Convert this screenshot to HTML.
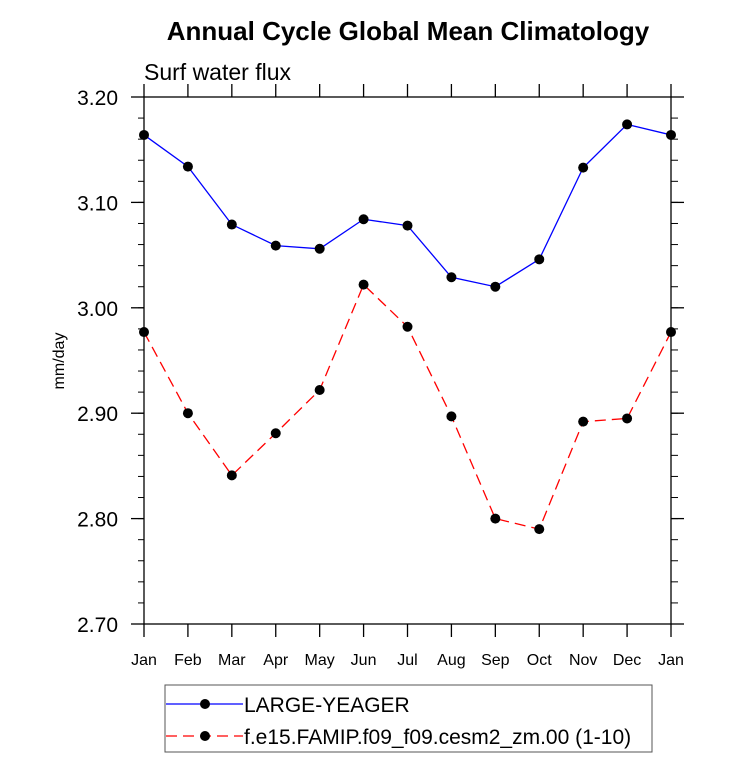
<!DOCTYPE html>
<html><head><meta charset="utf-8"><style>body{margin:0;background:#fff}svg{display:block}text{font-family:"Liberation Sans",sans-serif}</style></head>
<body>
<svg id="c" width="733" height="761">
<text x="408" y="40" text-anchor="middle" font-size="26" font-weight="bold">Annual Cycle Global Mean Climatology</text>
<text x="144" y="80" font-size="23">Surf water flux</text>
<text transform="translate(64,361) rotate(-90)" text-anchor="middle" font-size="16">mm/day</text>
<g id="axes"></g><g id="series"></g>
<rect x="165" y="685" width="487" height="67" fill="none" stroke="#555" stroke-width="1"/>
<g>
<line x1="166" y1="704" x2="243" y2="704" stroke="#0000ff" stroke-width="1.3"/><circle cx="205" cy="704" r="5"/>
<text x="244" y="712" font-size="21">LARGE-YEAGER</text></g>
<g>
<line x1="166" y1="736" x2="243" y2="736" stroke="#ff0000" stroke-width="1.3" stroke-dasharray="11,6"/><circle cx="205" cy="736" r="5"/>
<text x="244" y="744" font-size="21">f.e15.FAMIP.f09_f09.cesm2_zm.00 (1-10)</text></g>
</svg>
<script>
const months=["Jan","Feb","Mar","Apr","May","Jun","Jul","Aug","Sep","Oct","Nov","Dec","Jan"];
const largeYeager=[3.164,3.134,3.079,3.059,3.056,3.084,3.078,3.029,3.020,3.046,3.133,3.174,3.164];
const famip=[2.977,2.900,2.841,2.881,2.922,3.022,2.982,2.897,2.800,2.790,2.892,2.895,2.977];
const yTicks=[2.70,2.80,2.90,3.00,3.10,3.20];
const X0=144,X1=671,Y0=624,Y1=97,YMIN=2.7,YMAX=3.2;
const xs=i=>X0+(X1-X0)*i/(months.length-1);
const ys=v=>Y0-(v-YMIN)/(YMAX-YMIN)*(Y0-Y1);
const NS="http://www.w3.org/2000/svg";
function mk(t,a,p){const e=document.createElementNS(NS,t);for(const k in a)e.setAttribute(k,a[k]);p.appendChild(e);return e;}
const ax=document.getElementById('axes');
const fr=mk('rect',{x:X0,y:Y1,width:X1-X0,height:Y0-Y1,fill:'none',stroke:'#000','stroke-width':1.3},ax);


months.forEach((m,i)=>{const x=xs(i);
mk('line',{x1:x,y1:Y0,x2:x,y2:Y0+13,stroke:'#000','stroke-width':1.3},ax);
mk('line',{x1:x,y1:Y1,x2:x,y2:Y1-13,stroke:'#000','stroke-width':1.3},ax);
const t=mk('text',{x:x,y:665,'text-anchor':'middle','font-size':16},ax);t.textContent=m;

});
for(let v=YMIN;v<=YMAX+1e-9;v+=0.02){const y=ys(v);
mk('line',{x1:X0,y1:y,x2:X0-6,y2:y,stroke:'#000','stroke-width':1},ax);
mk('line',{x1:X1,y1:y,x2:X1+7,y2:y,stroke:'#000','stroke-width':1},ax);}
yTicks.forEach(v=>{const y=ys(v);
mk('line',{x1:X0,y1:y,x2:X0-13,y2:y,stroke:'#000','stroke-width':1.3},ax);
mk('line',{x1:X1,y1:y,x2:X1+13,y2:y,stroke:'#000','stroke-width':1.3},ax);
const t=mk('text',{x:118,y:y+8,'text-anchor':'end','font-size':21},ax);t.textContent=v.toFixed(2);

});
const sg=document.getElementById('series');
function draw(vals,color,dash,name){
const p=mk('polyline',{points:vals.map((v,i)=>xs(i)+','+ys(v)).join(' '),fill:'none',stroke:color,'stroke-width':1.3,'stroke-dasharray':dash},sg);


vals.forEach((v,i)=>{const c=mk('circle',{cx:xs(i),cy:ys(v),r:5,fill:'#000'},sg);

});}
draw(largeYeager,'#0000ff','none','large-yeager');
draw(famip,'#ff0000','11,6','famip');
</script>
</body></html>
